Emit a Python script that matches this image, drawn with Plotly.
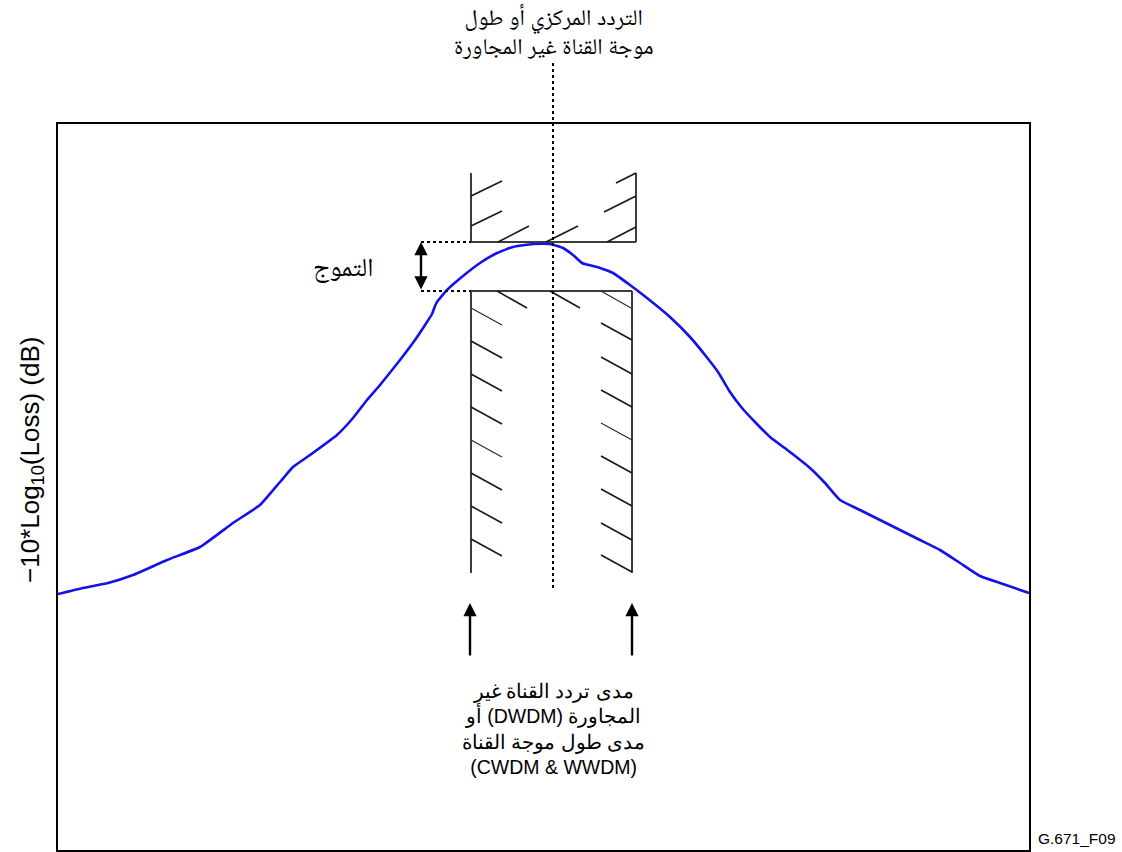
import plotly.graph_objects as go

# Plot frame in pixels (figure is 1122 x 852)
FIG_W, FIG_H = 1122, 852
LEFT, RIGHT, TOP, BOTTOM = 58, 1029, 124, 850
PLOT_W, PLOT_H = RIGHT - LEFT, BOTTOM - TOP  # one axis unit == one pixel

# Filter transmission curve: relative frequency vs. -10*log10(loss)
freq = [0, 25, 50, 75, 109, 142, 175, 202, 222, 235, 252, 279, 295, 309, 322,
        342, 357, 369, 374, 377, 379, 389, 405, 422, 439, 455, 475, 492, 505,
        515, 524, 527, 542, 555, 572, 589, 612, 632, 647, 660, 672, 684, 697,
        712, 732, 752, 767, 782, 802, 822, 842, 862, 882, 902, 922, 942, 971]
level = [256, 262, 267, 275, 290, 303, 327, 345, 368, 383, 395, 415, 432, 450,
         465, 490, 510, 528, 536, 544, 548, 560, 574, 587, 597, 603, 606, 606,
         602, 595, 587, 586, 582, 577, 565, 552, 533, 513, 495, 478, 458, 442,
         428, 413, 398, 382, 367, 350, 340, 330, 320, 310, 300, 287, 274, 267,
         257]

# Mask template: channel frequency range and ripple window
chan_lo, chan_hi_upper, chan_hi_lower = 413, 578, 574
centre_freq = 495
ripple_max, ripple_min = 608, 559
upper_mask_top, lower_mask_bottom = 677, 277

# Hatch strokes of the two mask regions
upper_hatch = [((413, 654), (444, 669)), ((413, 624), (444, 639)),
               ((440, 608), (471, 624)), ((488, 608), (520, 624)),
               ((549, 608), (578, 623)), ((546, 638), (578, 654)),
               ((558, 667), (578, 677))]
lower_left_starts = [542, 509, 476, 443, 410, 377, 344, 311]
lower_right_starts = [527, 493, 460, 427, 394, 361, 327, 295]
lower_top_starts = [439, 492, 543]

fig = go.Figure()
fig.add_trace(go.Scatter(
    x=freq, y=level, mode="lines",
    line=dict(color="rgb(18,18,235)", width=2.6, shape="spline", smoothing=0.4),
    hoverinfo="skip", showlegend=False))

shapes = []
mask_line = dict(color="rgb(60,60,60)", width=2)


def seg(x0, y0, x1, y1, line, yref="y"):
    shapes.append(dict(type="line", xref="x", yref=yref,
                       x0=x0, y0=y0, x1=x1, y1=y1, line=line))


# upper mask outline (open at the top)
seg(chan_lo, ripple_max, chan_hi_upper, ripple_max, mask_line)
seg(chan_lo, ripple_max, chan_lo, upper_mask_top, mask_line)
seg(chan_hi_upper, ripple_max, chan_hi_upper, upper_mask_top, mask_line)
# lower mask outline (open at the bottom)
seg(chan_lo, ripple_min, chan_hi_lower, ripple_min, mask_line)
seg(chan_lo, ripple_min, chan_lo, lower_mask_bottom, mask_line)
seg(chan_hi_lower, ripple_min, chan_hi_lower, lower_mask_bottom, mask_line)

hatch_line = dict(color="rgb(25,25,25)", width=1.6)
thin_hatch = dict(color="rgb(40,40,40)", width=1.1)
for (a, b) in upper_hatch:
    seg(a[0], a[1], b[0], b[1], hatch_line)
for i, y in enumerate(lower_left_starts):
    seg(chan_lo, y, chan_lo + 31, y - 17, thin_hatch if i in (0, 4) else hatch_line)
for i, y in enumerate(lower_right_starts):
    seg(chan_hi_lower - 31, y, chan_hi_lower, y - 17, thin_hatch if i == 3 else hatch_line)
for i, x in enumerate(lower_top_starts):
    seg(x, ripple_min, x + 30, ripple_min - 17, thin_hatch if i == 2 else hatch_line)

# ripple guide lines
dot = dict(color="black", width=2, dash="dot")
seg(363, ripple_max, chan_lo, ripple_max, dot)
seg(363, ripple_min, chan_lo, ripple_min, dot)
# centre frequency line, running up into the heading
seg(centre_freq, 262 / PLOT_H, centre_freq, 788 / PLOT_H, dot, yref="paper")

arabic_font = "Times New Roman, Liberation Serif, Noto Naskh Arabic, DejaVu Sans, serif"
latin_font = "Arial, Liberation Sans, sans-serif"

annotations = [
    # ripple double arrow
    dict(x=363, y=ripple_max, ax=363, ay=ripple_min, xref="x", yref="y",
         axref="x", ayref="y", text="", showarrow=True, arrowside="end+start",
         arrowhead=2, startarrowhead=2, arrowwidth=2.4, arrowsize=1.1,
         startarrowsize=1.1, arrowcolor="black"),
    # channel range arrows
    dict(x=chan_lo - 1, y=247, ax=chan_lo - 1, ay=193, xref="x", yref="y",
         axref="x", ayref="y", text="", showarrow=True, arrowhead=2,
         arrowwidth=2.4, arrowsize=1.1, arrowcolor="black"),
    dict(x=chan_hi_lower, y=247, ax=chan_hi_lower, ay=193, xref="x", yref="y",
         axref="x", ayref="y", text="", showarrow=True, arrowhead=2,
         arrowwidth=2.4, arrowsize=1.1, arrowcolor="black"),
    # heading
    dict(x=centre_freq / PLOT_W, y=819 / PLOT_H, xref="paper", yref="paper",
         text="التردد المركزي أو طول<br>موجة القناة غير المجاورة",
         showarrow=False, xanchor="center", yanchor="middle",
         font=dict(family=arabic_font, size=22.5, color="black")),
    # ripple label
    dict(x=285 / PLOT_W, y=582 / PLOT_H, xref="paper", yref="paper",
         text="التموج", showarrow=False, xanchor="center", yanchor="middle",
         font=dict(family=arabic_font, size=26, color="black")),
    # channel range label
    dict(x=centre_freq / PLOT_W, y=121 / PLOT_H, xref="paper", yref="paper",
         text=("مدى تردد القناة غير<br>أو (DWDM) المجاورة<br>"
               "مدى طول موجة القناة<br>(CWDM &amp; WWDM)"),
         showarrow=False, xanchor="center", yanchor="middle",
         font=dict(family=latin_font, size=19.5, color="black")),
    # y axis label
    dict(x=-27 / PLOT_W, y=390 / PLOT_H, xref="paper", yref="paper",
         text="−10*Log<sub>10</sub>(Loss) (dB)", textangle=-90,
         showarrow=False, xanchor="center", yanchor="middle",
         font=dict(family=latin_font, size=26, color="black")),
    # figure id
    dict(x=978 / PLOT_W, y=12 / PLOT_H, xref="paper", yref="paper",
         text="G.671_F09", showarrow=False, xanchor="left", yanchor="middle",
         font=dict(family=latin_font, size=15.5, color="black")),
]

axis_common = dict(showgrid=False, zeroline=False, showticklabels=False,
                   ticks="", showline=True, mirror=True, linecolor="black",
                   linewidth=1.5)
fig.update_layout(
    width=FIG_W, height=FIG_H,
    margin=dict(l=LEFT, r=FIG_W - RIGHT, t=TOP, b=FIG_H - BOTTOM),
    paper_bgcolor="white", plot_bgcolor="white",
    xaxis=dict(range=[0, PLOT_W], **axis_common),
    yaxis=dict(range=[0, PLOT_H], **axis_common),
    shapes=shapes, annotations=annotations, showlegend=False,
)

fig.write_html("out.html")
